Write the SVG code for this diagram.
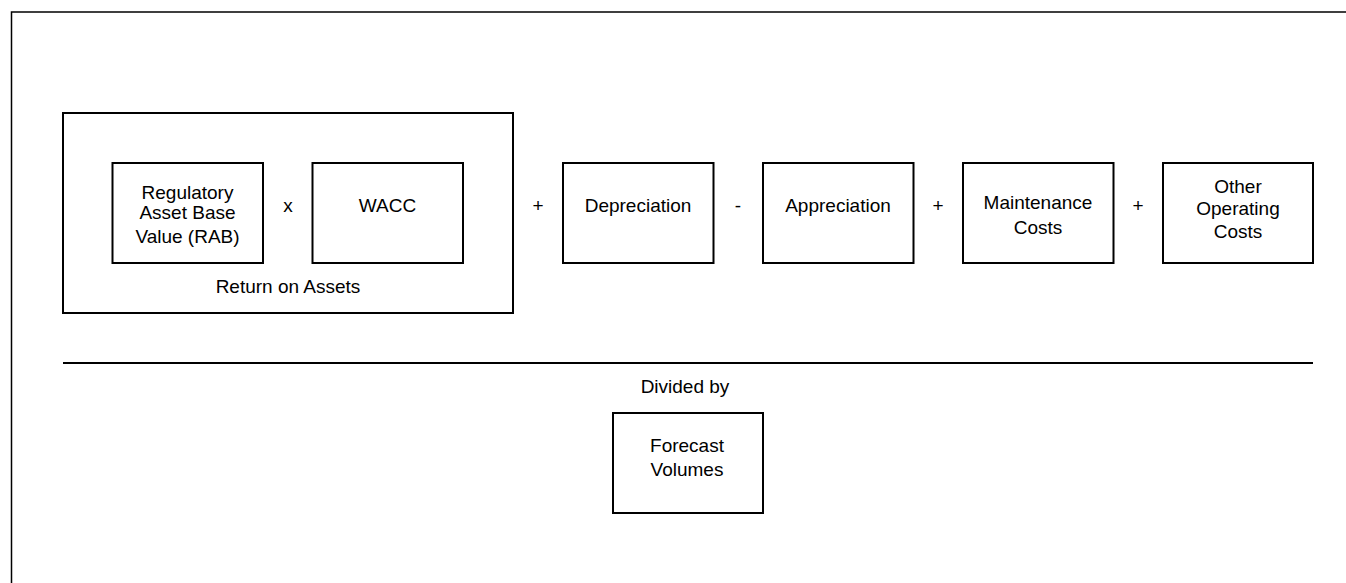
<svg xmlns="http://www.w3.org/2000/svg" width="1346" height="583" viewBox="0 0 1346 583">
<style>
  .box { fill: #fff; stroke: #000; stroke-width: 2; }
  .t { font-family: "Liberation Sans", Arial, sans-serif; font-size: 19px; fill: #000; text-anchor: middle; }
</style>
<rect x="0" y="0" width="1346" height="583" fill="#fff"/>
<rect id="frame" x="11.5" y="12" width="1400" height="620" fill="none" stroke="#000" stroke-width="1.5"/>

<g id="return-on-assets">
  <rect class="box" x="63" y="113" width="450" height="200"/>
  <text class="t" x="288" y="292.5">Return on Assets</text>
</g>
<g id="rab">
  <rect class="box" x="112.5" y="163" width="150.5" height="100"/>
  <text class="t" x="187.5" y="198.5">Regulatory</text>
  <text class="t" x="187.5" y="219">Asset Base</text>
  <text class="t" x="187.5" y="243">Value (RAB)</text>
</g>
<g id="wacc">
  <rect class="box" x="312.5" y="163" width="150.5" height="100"/>
  <text class="t" x="387.5" y="211.5">WACC</text>
</g>
<g id="depreciation">
  <rect class="box" x="563" y="163" width="150.5" height="100"/>
  <text class="t" x="638" y="211.5">Depreciation</text>
</g>
<g id="appreciation">
  <rect class="box" x="763" y="163" width="150.5" height="100"/>
  <text class="t" x="838" y="211.5">Appreciation</text>
</g>
<g id="maintenance">
  <rect class="box" x="963" y="163" width="150.5" height="100"/>
  <text class="t" x="1038" y="208.5">Maintenance</text>
  <text class="t" x="1038" y="233.5">Costs</text>
</g>
<g id="other-operating">
  <rect class="box" x="1163" y="163" width="150" height="100"/>
  <text class="t" x="1238" y="192.5">Other</text>
  <text class="t" x="1238" y="214.5">Operating</text>
  <text class="t" x="1238" y="237.5">Costs</text>
</g>
<g id="forecast-volumes">
  <rect class="box" x="613" y="413" width="150" height="100"/>
  <text class="t" x="687" y="452">Forecast</text>
  <text class="t" x="687" y="475.5">Volumes</text>
</g>

<g id="connectors">
  <text class="t" x="288" y="211.5">x</text>
  <text class="t" x="538" y="211.5">+</text>
  <text class="t" x="738" y="211.5">-</text>
  <text class="t" x="938" y="211.5">+</text>
  <text class="t" x="1138" y="211.5">+</text>
  <line x1="63" y1="363" x2="1313" y2="363" stroke="#000" stroke-width="2"/>
  <text class="t" x="685" y="393">Divided by</text>
</g>
</svg>
